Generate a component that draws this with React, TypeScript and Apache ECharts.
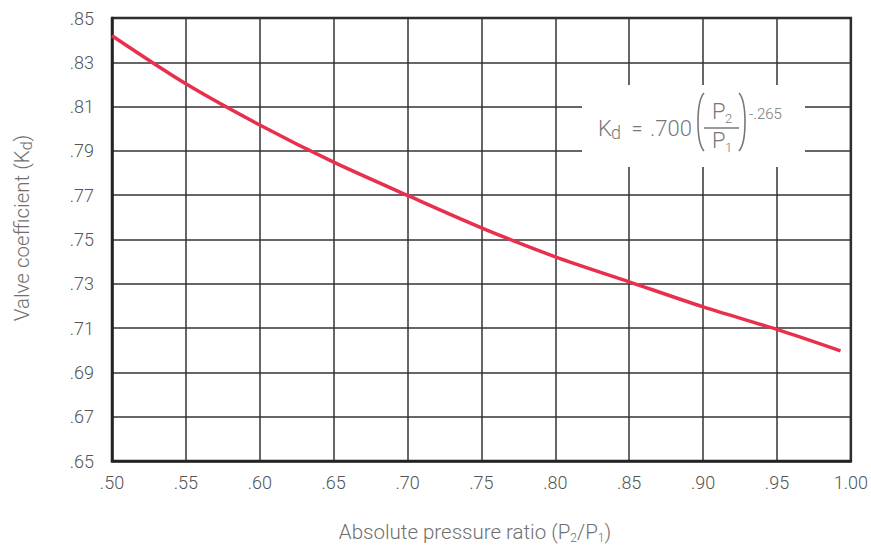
import React, { useEffect, useRef } from "react";
import * as echarts from "echarts";

const pressureRatio = [0.5, 0.55, 0.6, 0.65, 0.7, 0.75, 0.8, 0.85, 0.9, 0.95, 0.993];
const valveCoefficient = [0.842, 0.8203, 0.8017, 0.7849, 0.7699, 0.7553, 0.7422, 0.7309, 0.7196, 0.7094, 0.6997];

const xMin = 0.5, xMax = 1.0, xStep = 0.05;
const yMin = 0.65, yMax = 0.85, yStep = 0.02;

const xName = ["Absolute pressure ratio (P", "2", "/P", "1", ")"];
const yName = ["Valve coefficient (K", "d", ")"];

const FONT = "Roboto, 'Noto Sans', sans-serif";
const GRAY = "#6f6f6f";

export default function App() {
  const ref = useRef<HTMLDivElement>(null);
  useEffect(() => {
    document.body.style.margin = "0";
    const chart = echarts.init(ref.current!, null, { renderer: "svg" });
    const fmt = (v: number) => {
      const s = v.toFixed(2);
      return s.startsWith("0") ? s.slice(1) : s;
    };
    const F = "rgb(120,120,120)";
    const t = (text: string, x: number, y: number, size: number, align = "left") => ({
      type: "text",
      z: 101,
      style: { text, x, y, fill: F, fontSize: size, fontFamily: FONT, fontWeight: 300, textAlign: align, textVerticalAlign: "middle" },
    });
    chart.setOption({
      animation: false,
      backgroundColor: "#fff",
      grid: { left: 112, top: 18, width: 740, height: 443, show: true, borderColor: "#222", borderWidth: 2.5, backgroundColor: "transparent" },
      xAxis: {
        type: "value",
        min: xMin,
        max: xMax,
        interval: xStep,
        axisLine: { show: true, onZero: false, lineStyle: { color: "#222", width: 2.5 } },
        axisTick: { show: false },
        axisLabel: { margin: 12, color: "#555", fontSize: 18, fontFamily: FONT, fontWeight: 300, formatter: fmt },
        splitLine: { show: true, lineStyle: { color: "#333", width: 1.5 } },
      },
      yAxis: {
        type: "value",
        min: yMin,
        max: yMax,
        interval: yStep,
        axisLine: { show: true, onZero: false, lineStyle: { color: "#222", width: 2.5 } },
        axisTick: { show: false },
        axisLabel: { margin: 18, color: "#555", fontSize: 18, fontFamily: FONT, fontWeight: 300, formatter: fmt },
        splitLine: { show: true, lineStyle: { color: "#333", width: 1.5 } },
      },
      series: [
        {
          type: "line",
          data: pressureRatio.map((x, i) => [x, valveCoefficient[i]]),
          smooth: 0.3,
          showSymbol: false,
          lineStyle: { color: "#e8304e", width: 3.5 },
          z: 5,
        },
      ],
      graphic: [
        {
          type: "text",
          x: 475,
          y: 532,
          style: {
            text: `{b|${xName[0]}}{s|${xName[1]}}{b|${xName[2]}}{s|${xName[3]}}{b|${xName[4]}}`,
            textAlign: "center",
            textVerticalAlign: "middle",
            rich: {
              b: { fontSize: 20.5, fontFamily: FONT, fontWeight: 300, fill: GRAY, lineHeight: 24, verticalAlign: "middle" },
              s: { fontSize: 12, fontFamily: FONT, fontWeight: 300, fill: GRAY, lineHeight: 12, verticalAlign: "bottom" },
            },
          },
        },
        {
          type: "text",
          x: 22,
          y: 228,
          rotation: Math.PI / 2,
          style: {
            text: `{b|${yName[0]}}{s|${yName[1]}}{b|${yName[2]}}`,
            textAlign: "center",
            textVerticalAlign: "middle",
            rich: {
              b: { fontSize: 20.5, fontFamily: FONT, fontWeight: 300, fill: GRAY, lineHeight: 24, verticalAlign: "middle" },
              s: { fontSize: 16, fontFamily: FONT, fontWeight: 300, fill: GRAY, lineHeight: 15, verticalAlign: "bottom" },
            },
          },
        },
        { type: "rect", z: 100, shape: { x: 582, y: 85, width: 223, height: 82 }, style: { fill: "#fff" } },
        t("K", 598, 128, 22),
        t("d", 611, 132, 18),
        t("=", 637, 128, 20, "center"),
        t(".700", 650, 128, 22),
        t("P", 712, 111, 22),
        t("2", 725, 118, 13),
        t("P", 712, 140, 22),
        t("1", 725, 147, 13),
        t("-.265", 749, 114, 15),
        {
          type: "bezierCurve",
          z: 101,
          shape: { x1: 704, y1: 93, x2: 704, y2: 151, cpx1: 696, cpy1: 102, cpx2: 696, cpy2: 142 },
          style: { stroke: F, lineWidth: 1.6, fill: null },
        },
        {
          type: "bezierCurve",
          z: 101,
          shape: { x1: 739, y1: 93, x2: 739, y2: 151, cpx1: 747, cpy1: 102, cpx2: 747, cpy2: 142 },
          style: { stroke: F, lineWidth: 1.6, fill: null },
        },
        { type: "line", z: 101, shape: { x1: 704, y1: 128, x2: 739, y2: 128 }, style: { stroke: F, lineWidth: 1.4 } },
      ],
    });
    return () => chart.dispose();
  }, []);
  return <div ref={ref} style={{ width: 871, height: 549 }} />;
}
